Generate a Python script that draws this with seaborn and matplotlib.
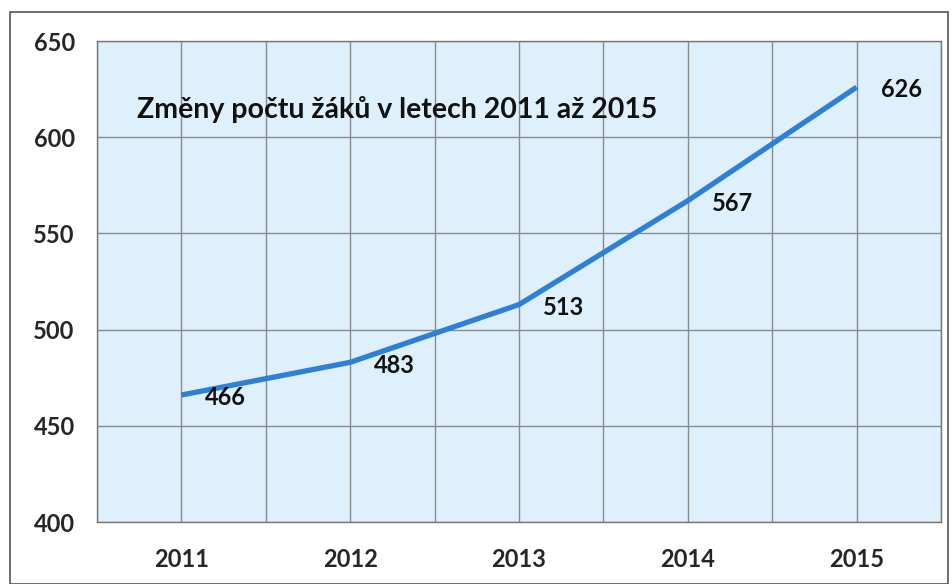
import matplotlib.pyplot as plt
import matplotlib.patches as patches
import pandas as pd
import seaborn as sns

years = ['2011', '2012', '2013', '2014', '2015']
pupils = [466, 483, 513, 567, 626]
yticks = [400, 450, 500, 550, 600, 650]
title = 'Změny počtu žáků v letech 2011 až 2015'

df = pd.DataFrame({'year': years, 'pupils': pupils})

sns.set_style('white')
plt.rcParams['font.family'] = ['Lato', 'DejaVu Sans']

fig = plt.figure(figsize=(9.52, 5.84), dpi=100)
ax = fig.add_axes([97/952, 1-522/584, (941-97)/952, (522-41)/584])
ax.set_facecolor('#def0fb')

pos = list(range(len(years)))
g = sns.lineplot(x=pos, y=pupils, ax=ax, color='#2d7fd8', linewidth=3.8,
                 solid_capstyle='butt', zorder=3)

for i, v in zip(pos, pupils):
    ax.annotate(str(v), (i, v), xytext=(32, -2), textcoords='offset points',
                ha='center', va='center', fontsize=17, fontweight='bold',
                color='#111111', zorder=4)

ax.set_xlim(-0.5, len(years) - 0.5)
ax.set_ylim(400, 650)
ax.set_yticks(yticks)
ax.set_yticklabels([str(t) for t in yticks], fontsize=17, fontweight='bold')
ax.set_xticks(pos)
ax.set_xticklabels(years, fontsize=17, fontweight='bold')
ax.set_xticks([p - 0.5 for p in pos] + [len(years) - 0.5], minor=True)
ax.tick_params(axis='x', which='major', length=0, pad=19)
ax.tick_params(axis='x', which='minor', length=6, direction='out', color='#555555')
ax.tick_params(axis='y', length=8, direction='out', color='#555555', pad=8)

ax.grid(True, which='major', axis='both', color='#8a8a8a', linewidth=1)
ax.grid(True, which='minor', axis='x', color='#8a8a8a', linewidth=1)
ax.set_axisbelow(True)
for s in ax.spines.values():
    s.set_color('#777777')
    s.set_linewidth(1)
ax.set_xlabel('')
ax.set_ylabel('')

ax.text(0.047, 0.857, title, transform=ax.transAxes, fontsize=20.5,
        fontweight='bold', color='#111111', va='center', ha='left')

fig.patches.append(patches.Rectangle((10/952, 0), 938/952, 1-12/584,
                                     transform=fig.transFigure, fill=False,
                                     edgecolor='#555555', linewidth=1.2))

fig.savefig('out.png', dpi=100)
